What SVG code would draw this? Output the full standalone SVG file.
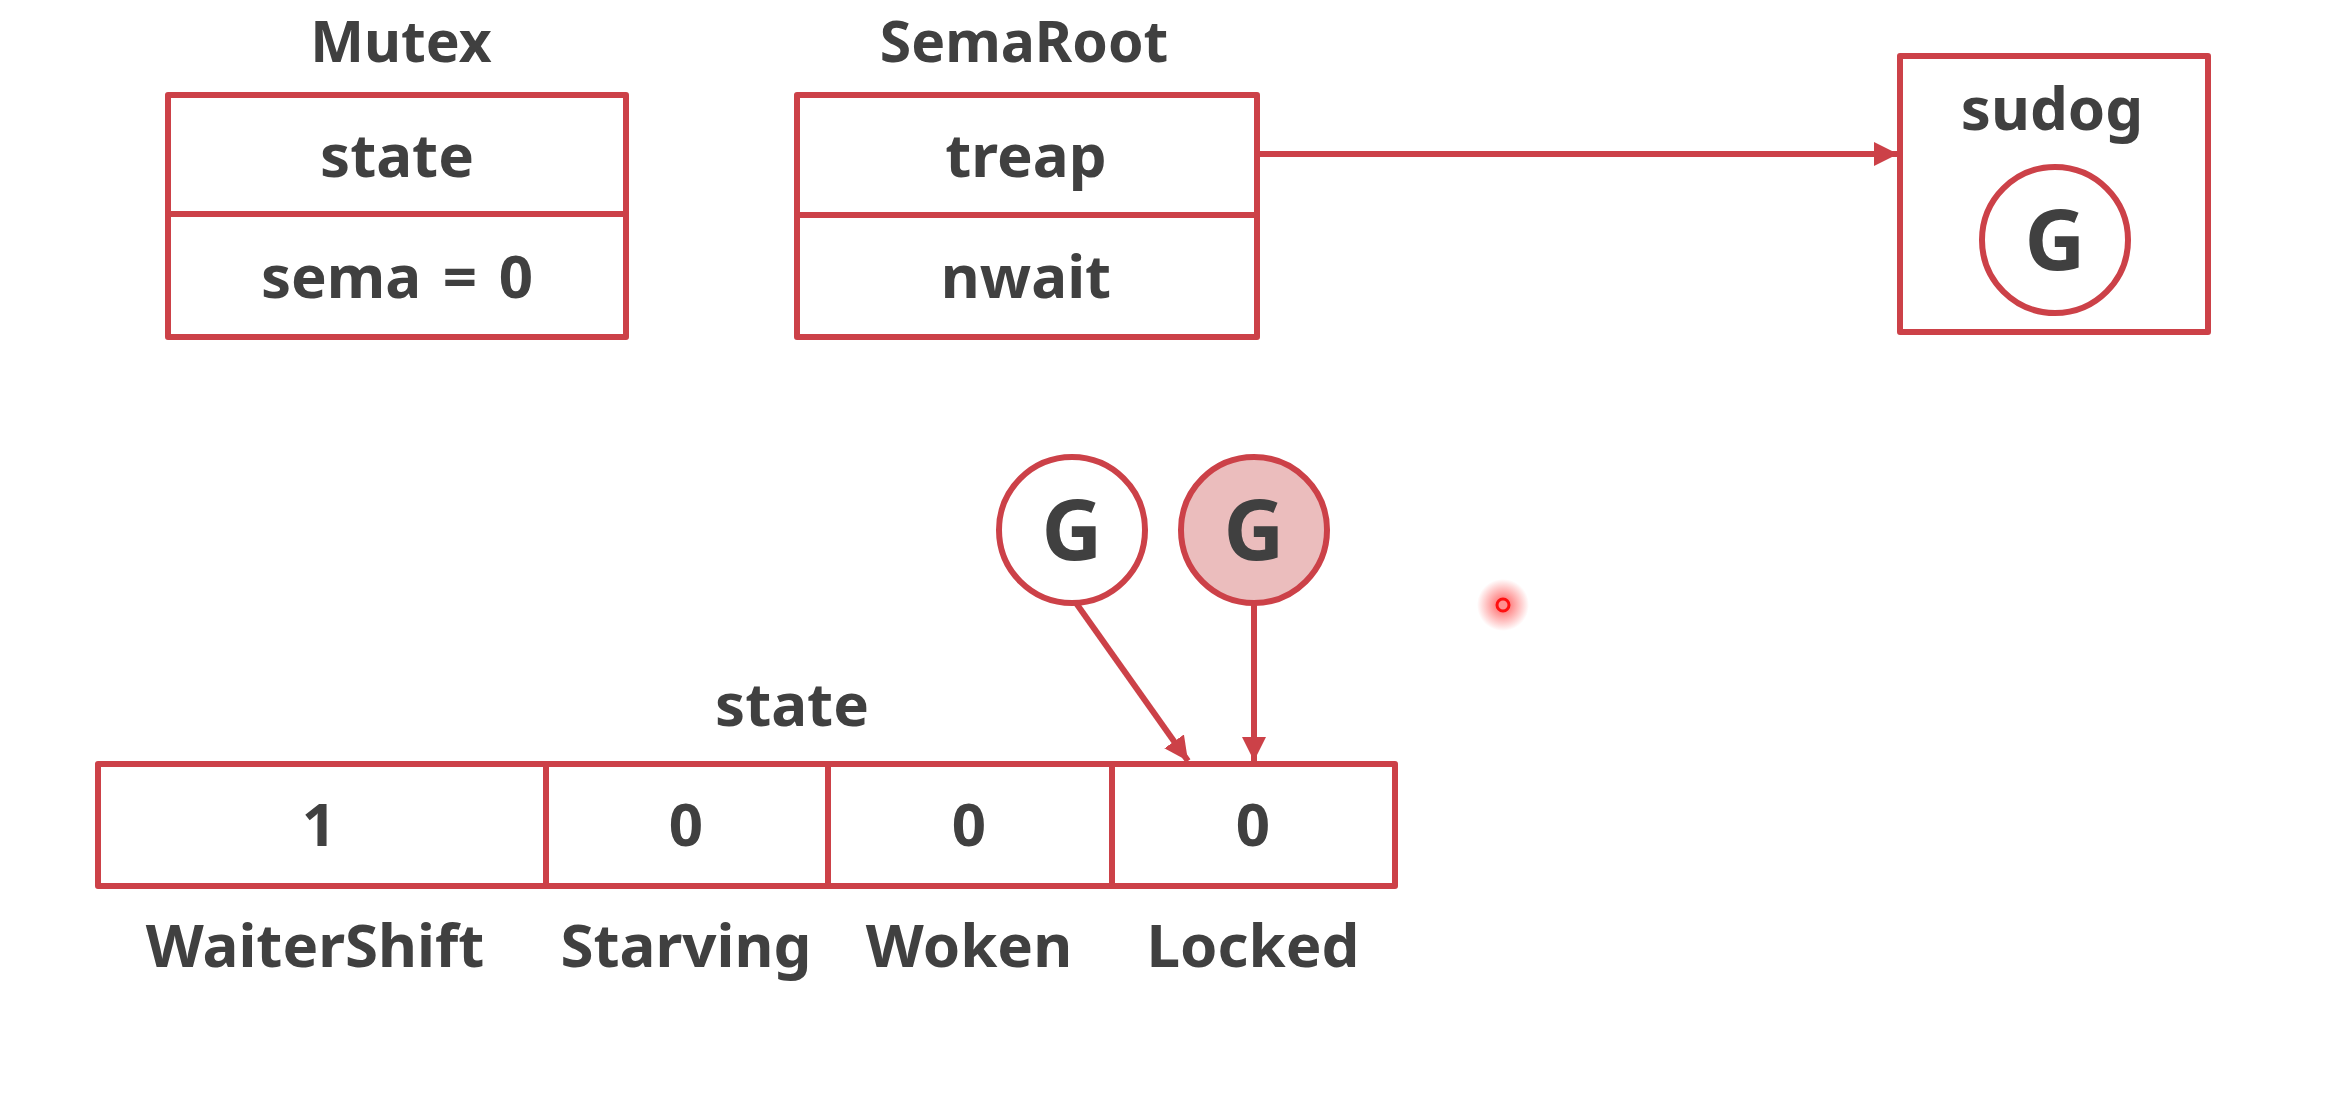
<svg xmlns="http://www.w3.org/2000/svg" width="2327" height="1109" viewBox="0 0 2327 1109">
<style>
.box{fill:#fff;stroke:#cc4148;stroke-width:6;stroke-linejoin:round}
.ln{stroke:#cc4148;stroke-width:6;fill:none}
.t{font-family:"Noto Sans","Open Sans","DejaVu Sans",sans-serif;font-weight:bold;font-size:60px;fill:#404040;text-anchor:middle}
.h{font-size:57px}
.g{font-size:84px}
</style>
<defs>
<marker id="ah" viewBox="0 0 10 10" refX="10" refY="5" markerWidth="4" markerHeight="4" orient="auto" markerUnits="strokeWidth">
<path d="M0,0 L10,5 L0,10 Z" fill="#cc4148"/>
</marker>
<radialGradient id="glow">
<stop offset="0" stop-color="#ff3030" stop-opacity="0.8"/>
<stop offset="1" stop-color="#ff3030" stop-opacity="0"/>
</radialGradient>
</defs>
<rect width="2327" height="1109" fill="#fff"/>
<g id="mutex">
<text class="t h" x="401" y="62">Mutex</text>
<rect class="box" x="168" y="95" width="458" height="242"/>
<line class="ln" x1="168" y1="214" x2="626" y2="214"/>
<text class="t" x="397" y="177">state</text>
<text class="t" x="397" y="298" word-spacing="6">sema = 0</text>
</g>
<g id="semaroot">
<text class="t h" x="1024" y="62">SemaRoot</text>
<rect class="box" x="797" y="95" width="460" height="242"/>
<line class="ln" x1="797" y1="215" x2="1257" y2="215"/>
<text class="t" x="1026" y="177">treap</text>
<text class="t" x="1026" y="298">nwait</text>
</g>
<g id="sudog">
<rect class="box" x="1900" y="56" width="308" height="276"/>
<text class="t" x="2052" y="130">sudog</text>
<circle class="box" cx="2055" cy="240" r="73"/>
<text class="t g" x="2055" y="270">G</text>
</g>
<g id="g-white">
<circle class="box" cx="1072" cy="530" r="73"/>
<text class="t g" x="1072" y="560">G</text>
</g>
<g id="g-pink">
<circle class="box" style="fill:#ebbdbd" cx="1254" cy="530" r="73"/>
<text class="t g" x="1254" y="560">G</text>
</g>
<g id="state">
<text class="t" x="792" y="726">state</text>
<rect class="box" x="98" y="764" width="1297" height="122"/>
<line class="ln" x1="546" y1="764" x2="546" y2="886"/>
<line class="ln" x1="828" y1="764" x2="828" y2="886"/>
<line class="ln" x1="1112" y1="764" x2="1112" y2="886"/>
<text class="t" x="319" y="846">1</text>
<text class="t" x="686" y="846">0</text>
<text class="t" x="969" y="846">0</text>
<text class="t" x="1253" y="846">0</text>
<text class="t" x="315" y="967">WaiterShift</text>
<text class="t" x="686" y="967">Starving</text>
<text class="t" x="969" y="967">Woken</text>
<text class="t" x="1253" y="967">Locked</text>
</g>
<g id="connectors">
<line class="ln" x1="1257" y1="154" x2="1898" y2="154" marker-end="url(#ah)"/>
<line class="ln" x1="1076" y1="603" x2="1188" y2="761" marker-end="url(#ah)"/>
<line class="ln" x1="1254" y1="603" x2="1254" y2="761" marker-end="url(#ah)"/>
</g>
<g id="pointer">
<circle cx="1503" cy="605" r="26" fill="url(#glow)"/>
<circle cx="1503" cy="605" r="6" fill="#ff9090" stroke="#ff1010" stroke-width="3"/>
</g>
</svg>
